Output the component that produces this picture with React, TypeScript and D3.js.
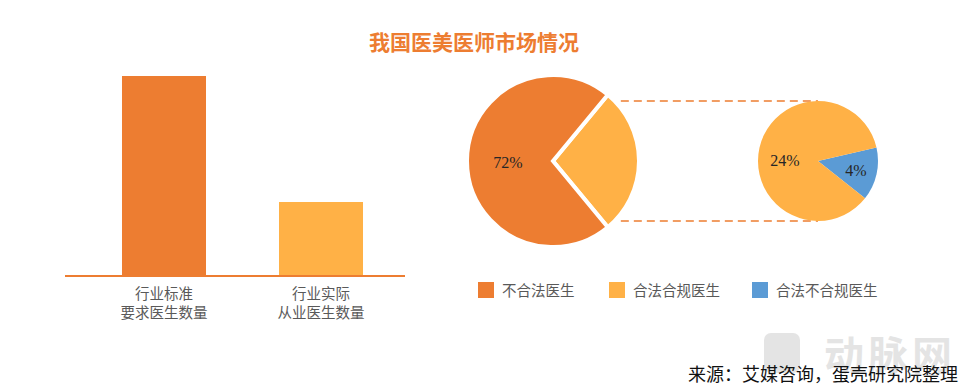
import React from 'react';
import * as d3 from 'd3';

const barCategories = [['行业标准', '要求医生数量'], ['行业实际', '从业医生数量']];
const barValues = [100, 37];
const barColors = ['#ED7D31', '#FFB146'];

const mainPie = [
  { name: '合法医生', value: 28, color: '#FFB146' },
  { name: '不合法医生', value: 72, color: '#ED7D31' },
];
const subPie = [
  { name: '合法不合规医生', value: 4, color: '#5B9BD5' },
  { name: '合法合规医生', value: 24, color: '#FFB146' },
];
const legendItems = [
  { name: '不合法医生', color: '#ED7D31' },
  { name: '合法合规医生', color: '#FFB146' },
  { name: '合法不合规医生', color: '#5B9BD5' },
];

const W = 965;
const H = 391;
const sans = '"Noto Sans CJK SC", "Noto Sans", sans-serif';
const serif = '"Liberation Serif", "DejaVu Serif", "Noto Sans CJK SC", serif';

export default function App() {
  // bar chart
  const x = d3.scaleBand<number>().domain([0, 1]).range([65, 420]).paddingInner(0.465).paddingOuter(0.363);
  const y = d3.scaleLinear().domain([0, 100]).range([276, 76]);

  // main pie: small slice centred at 3 o'clock
  const big = { cx: 553, cy: 161, r: 86 };
  const mainSpan = (mainPie[0].value / 100) * Math.PI * 2;
  const mainArcs = d3.pie<any>().sort(null).value(d => d.value)
    .startAngle(Math.PI / 2 - mainSpan / 2).endAngle(Math.PI / 2 - mainSpan / 2 + Math.PI * 2)(mainPie);
  const bigArc = d3.arc<any>().innerRadius(0).outerRadius(big.r);

  const small = { cx: 818, cy: 161, r: 60 };
  const start = (77 / 180) * Math.PI;
  const subArcs = d3.pie<any>().sort(null).value(d => d.value)
    .startAngle(start).endAngle(start + Math.PI * 2)(subPie);
  const smallArc = d3.arc<any>().innerRadius(0).outerRadius(small.r);

  const topX = big.cx + big.r * Math.sin(mainArcs[0].startAngle);
  const botX = big.cx + big.r * Math.sin(mainArcs[0].endAngle);

  const legendX = [478, 609, 752];

  return (
    <svg width={W} height={H} style={{ position: 'absolute', left: 0, top: 0 }}>
      <rect width={W} height={H} fill="#fff" />
      <text x={474} y={50} textAnchor="middle" fontFamily={serif} fontSize={21} fontWeight="bold" fill="#ED7D31">
        我国医美医师市场情况
      </text>

      {/* bars */}
      {barValues.map((v, i) => (
        <rect key={i} x={x(i)} y={y(v)} width={x.bandwidth()} height={y(0) - y(v)} fill={barColors[i]} />
      ))}
      <line x1={65} x2={405} y1={y(0)} y2={y(0)} stroke="#ED7D31" strokeWidth={2} />
      {barCategories.map((lines, i) =>
        lines.map((t, j) => (
          <text key={i + '-' + j} x={x(i)! + x.bandwidth() / 2} y={299 + j * 19} textAnchor="middle"
            fontFamily={sans} fontSize={14.5} fill="#595959">{t}</text>
        ))
      )}

      {/* connector lines */}
      <line x1={topX} x2={small.cx} y1={small.cy - small.r} y2={small.cy - small.r} stroke="#ED7D31" strokeWidth={1.3} strokeDasharray="8,5" />
      <line x1={botX} x2={small.cx} y1={small.cy + small.r} y2={small.cy + small.r} stroke="#ED7D31" strokeWidth={1.3} strokeDasharray="8,5" />

      {/* main pie */}
      <g transform={`translate(${big.cx},${big.cy})`}>
        {mainArcs.map((a, i) => (
          <path key={i} d={bigArc(a)!} fill={a.data.color} stroke="#fff" strokeWidth={4} strokeLinejoin="miter" />
        ))}
        <text x={-45} y={7} textAnchor="middle" fontFamily={serif} fontSize={16} fill="#262626">72%</text>
      </g>

      {/* sub pie */}
      <g transform={`translate(${small.cx},${small.cy})`}>
        {subArcs.map((a, i) => (
          <path key={i} d={smallArc(a)!} fill={a.data.color} />
        ))}
        <text x={-33} y={5} textAnchor="middle" fontFamily={serif} fontSize={16} fill="#262626">24%</text>
        <text x={38} y={15} textAnchor="middle" fontFamily={serif} fontSize={16} fill="#262626">4%</text>
      </g>

      {/* legend */}
      {legendItems.map((d, i) => (
        <g key={i} transform={`translate(${legendX[i]},282)`}>
          <rect width={16} height={16} fill={d.color} />
          <text x={24} y={13.5} fontFamily={sans} fontSize={14.5} fill="#595959">{d.name}</text>
        </g>
      ))}

      {/* watermark */}
      <g opacity={0.22}>
        <rect x={764} y={333} width={36} height={40} rx={7} fill="#888" />
        <text x={824} y={370} fontFamily={sans} fontSize={40} fontWeight="bold" fill="#888" letterSpacing={4}>动脉网</text>
      </g>

      <text x={958} y={381} textAnchor="end" fontFamily={serif} fontSize={18} fill="#111">
        来源：艾媒咨询，蛋壳研究院整理
      </text>
    </svg>
  );
}
